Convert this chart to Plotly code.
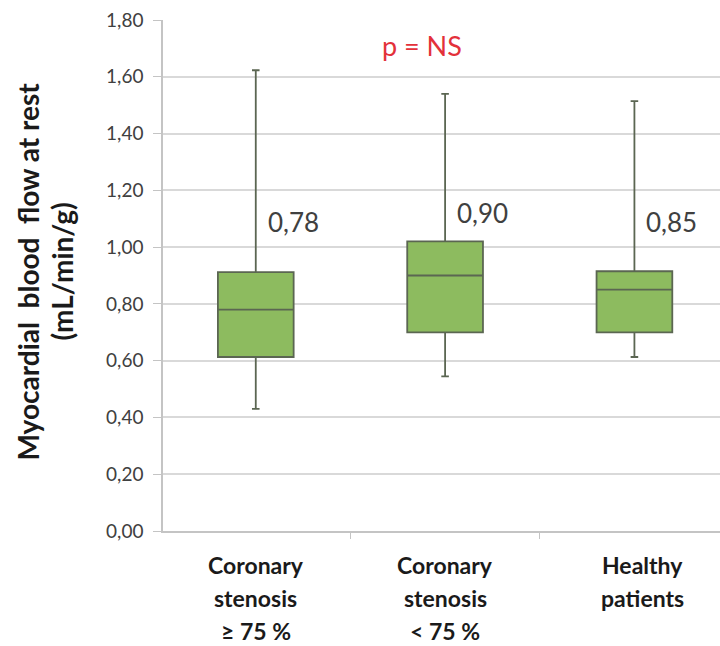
import plotly.graph_objects as go

categories = ["Coronary<br>stenosis<br>≥ 75 %", "Coronary<br>stenosis<br>< 75 %", "Healthy<br>patients"]
lower_whisker = [0.43, 0.545, 0.613]
q1_values = [0.613, 0.70, 0.70]
median_values = [0.78, 0.90, 0.85]
q3_values = [0.912, 1.02, 0.915]
upper_whisker = [1.623, 1.54, 1.514]
median_labels = ["0,78", "0,90", "0,85"]
y_title_lines = ["Myocardial  blood  flow at rest", "(mL/min/g)"]
y_tick_vals = [0.0, 0.2, 0.4, 0.6, 0.8, 1.0, 1.2, 1.4, 1.6, 1.8]
y_tick_text = ["0,00", "0,20", "0,40", "0,60", "0,80", "1,00", "1,20", "1,40", "1,60", "1,80"]

FONT = "Lato, Open Sans, sans-serif"
xpos = list(range(len(categories)))

fig = go.Figure()
fig.add_trace(go.Box(
    x=xpos,
    q1=q1_values,
    median=median_values,
    q3=q3_values,
    lowerfence=lower_whisker,
    upperfence=upper_whisker,
    fillcolor="#8dbb5f",
    line=dict(color="#5b6652", width=1.8),
    whiskerwidth=0.1,
    width=0.4,
    boxpoints=False,
    hoverinfo="skip",
    showlegend=False,
))

annotations = []
label_y = [1.09, 1.12, 1.09]
for i, lab in enumerate(median_labels):
    annotations.append(dict(
        x=xpos[i], y=label_y[i], xref="x", yref="y", text=lab, showarrow=False,
        xanchor="left", yanchor="middle", xshift=10,
        font=dict(family=FONT, size=26, color="#404040"),
    ))

label_xshift = [0, 0, 8]
for i, cat in enumerate(categories):
    for j, line in enumerate(cat.split("<br>")):
        annotations.append(dict(
            x=xpos[i], y=0, xref="x", yref="y", text="<b>" + line + "</b>", showarrow=False,
            xanchor="center", yanchor="middle", yshift=-34 - 33 * j, xshift=label_xshift[i],
            font=dict(family=FONT, size=23, color="#1a1a1a"),
        ))

annotations.append(dict(
    x=0.88, y=1.71, xref="x", yref="y", text="p = NS", showarrow=False,
    xanchor="center", yanchor="middle",
    font=dict(family=FONT, size=27, color="#e3313a"),
))

title_x = [-0.243, -0.182]
for k, line in enumerate(y_title_lines):
    annotations.append(dict(
        x=title_x[k], y=0.507, xref="paper", yref="paper",
        text="<b>" + line + "</b>",
        showarrow=False, textangle=-90, xanchor="center", yanchor="middle",
        font=dict(family=FONT, size=28, color="#1a1a1a"),
    ))

fig.update_layout(
    width=720, height=646,
    margin=dict(l=163, r=0, t=20, b=115),
    paper_bgcolor="white", plot_bgcolor="white",
    annotations=annotations,
    xaxis=dict(
        range=[-0.49, 2.452], showgrid=False, zeroline=False,
        showline=True, linecolor="#c4c4c4", linewidth=1.5,
        tickvals=[], showticklabels=False,
        minor=dict(tick0=0.5, dtick=1, ticks="outside", ticklen=6, tickcolor="#c4c4c4", showgrid=False),
    ),
    yaxis=dict(
        range=[0, 1.8], tickvals=y_tick_vals, ticktext=y_tick_text,
        showgrid=True, gridcolor="#d9d9d9", gridwidth=1.5,
        zeroline=False, showline=True, linecolor="#c4c4c4", linewidth=1.5,
        ticks="outside", ticklen=8, tickcolor="#c4c4c4",
        ticklabelstandoff=6,
        tickfont=dict(family=FONT, size=19, color="#404040"),
    ),
)

fig.write_html("out.html", config={"displayModeBar": False},
               post_script="document.body.style.margin='0';")
